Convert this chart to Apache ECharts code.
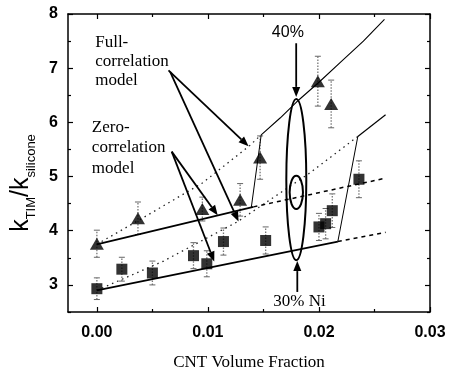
<!DOCTYPE html>
<html>
<head>
<meta charset="utf-8">
<script src="https://cdn.jsdelivr.net/npm/echarts@6/dist/echarts.min.js"></script>
<style>html,body{margin:0;padding:0;background:#fff}#c{width:452px;height:371px}</style>
</head>
<body>
<div id="c"></div>
<script>
// ---- data ----
const xTickLabels = [0, 0.01, 0.02, 0.03];
const xMinorTicks = [0.005, 0.015, 0.025];
const yTickLabels = [3, 4, 5, 6, 7, 8];
const yMinorTicks = [2.5, 3.5, 4.5, 5.5, 6.5, 7.5];

// 40% (triangles)
const triX = [0, 0.0037, 0.0095, 0.0129, 0.0147, 0.0199, 0.0211];
const triY = [3.76, 4.23, 4.40, 4.57, 5.35, 6.76, 6.34];
const triErr = [0.25, 0.30, 0.22, 0.30, 0.40, 0.46, 0.44];
// 30% Ni (squares)
const sqX = [0, 0.00225, 0.005, 0.0087, 0.0099, 0.0114, 0.0152, 0.0200, 0.0206, 0.0212, 0.0236];
const sqY = [2.93, 3.29, 3.22, 3.54, 3.39, 3.80, 3.82, 4.07, 4.13, 4.37, 4.95];
const sqErr = [0.20, 0.22, 0.22, 0.24, 0.24, 0.25, 0.25, 0.25, 0.28, 0.31, 0.34];

// model curves
const upSolidX = [0, 0.0141];        const upSolidY = [3.75, 4.44];
const upDashX = [0.0141, 0.026];     const upDashY = [4.44, 4.97];
const upJumpX = [0.0139, 0.0148];    const upJumpY = [4.42, 5.77];
const upCurveX = [0.0148, 0.0165, 0.018, 0.020, 0.022, 0.024, 0.0259];
const upCurveY = [5.77, 6.08, 6.38, 6.74, 7.12, 7.50, 7.90];
const upDotX = [0, 0.004, 0.0095, 0.0137, 0.0148];
const upDotY = [3.75, 4.22, 4.88, 5.56, 5.77];
const loSolidX = [0, 0.0217];        const loSolidY = [2.90, 3.80];
const loDashX = [0.0217, 0.026];     const loDashY = [3.80, 3.97];
const loJumpX = [0.0217, 0.0235];    const loJumpY = [3.80, 5.74];
const loCurveX = [0.0235, 0.026];    const loCurveY = [5.74, 6.14];
const loDotX = [0, 0.006, 0.0127, 0.0192, 0.0235];
const loDotY = [2.90, 3.44, 4.17, 5.07, 5.74];

const zip = (a, b) => a.map((v, i) => [v, b[i]]);
const zip3 = (a, b, e) => a.map((v, i) => [v, b[i] - e[i], b[i] + e[i]]);

const chart = echarts.init(document.getElementById('c'), null, {renderer: 'canvas'});

const XMIN = -0.0026, XMAX = 0.03, YMIN = 2.5, YMAX = 8;
const labelFont = {fontFamily: 'Liberation Sans', fontSize: 16, fontWeight: 'bold', color: '#000'};

function xAx(pos, major, showLabel, showLine, extra) {
  return Object.assign({
    type: 'value', position: pos, min: XMIN, max: XMAX,
    axisLine: {show: showLine, onZero: false, lineStyle: {color: '#000', width: 1.5}},
    axisTick: {show: true, inside: true, length: major ? 5 : 3, customValues: major ? xTickLabels : xMinorTicks, lineStyle: {color: '#000', width: 1.2}},
    axisLabel: showLabel ? Object.assign({show: true, customValues: xTickLabels, margin: 13, formatter: v => v.toFixed(2)}, labelFont) : {show: false},
    splitLine: {show: false}
  }, extra || {});
}
function yAx(pos, major, showLabel, showLine, extra) {
  return Object.assign({
    type: 'value', position: pos, min: YMIN, max: YMAX,
    axisLine: {show: showLine, onZero: false, lineStyle: {color: '#000', width: 1.5}},
    axisTick: {show: true, inside: true, length: major ? 5 : 3, customValues: major ? yTickLabels : yMinorTicks, lineStyle: {color: '#000', width: 1.2}},
    axisLabel: showLabel ? Object.assign({show: true, customValues: yTickLabels, margin: 10, formatter: v => String(v)}, labelFont) : {show: false},
    splitLine: {show: false}
  }, extra || {});
}

function errSeries(data) {
  return {
    type: 'custom', xAxisIndex: 0, yAxisIndex: 0, z: 2,
    data: data,
    renderItem: function (params, api) {
      const x = api.value(0);
      const lo = api.coord([x, api.value(1)]);
      const hi = api.coord([x, api.value(2)]);
      const st = {stroke: '#777', lineWidth: 1.3, lineDash: [1.5, 1.5]};
      const cs = {stroke: '#666', lineWidth: 1};
      return {type: 'group', children: [
        {type: 'line', shape: {x1: lo[0], y1: lo[1], x2: hi[0], y2: hi[1]}, style: st},
        {type: 'line', shape: {x1: lo[0] - 3, y1: lo[1], x2: lo[0] + 3, y2: lo[1]}, style: cs},
        {type: 'line', shape: {x1: hi[0] - 3, y1: hi[1], x2: hi[0] + 3, y2: hi[1]}, style: cs}
      ]};
    }
  };
}
function lineS(xs, ys, type, width, color) {
  return {
    type: 'line', xAxisIndex: 0, yAxisIndex: 0, data: zip(xs, ys), showSymbol: false, symbol: 'none',
    smooth: false, silent: true, z: 3,
    lineStyle: {color: color || '#000', width: width, type: type}
  };
}

const option = {
  animation: false,
  backgroundColor: '#fff',
  grid: {left: 68, right: 22, top: 14, bottom: 59, containLabel: false, outerBoundsMode: 'none'},
  xAxis: [
    xAx('bottom', true, true, true, {
      name: 'CNT Volume Fraction', nameLocation: 'middle', nameGap: 42,
      nameTextStyle: {fontFamily: 'Liberation Serif', fontSize: 17, color: '#000'}
    }),
    xAx('bottom', false, false, false),
    xAx('top', true, false, true),
    xAx('top', false, false, false)
  ],
  yAxis: [
    yAx('left', true, true, true, {
      name: '{k|k}{sub|TIM}{k|/k}{sub|silicone}', nameLocation: 'middle', nameGap: 24, nameRotate: 90,
      nameTextStyle: {
        fontFamily: 'Liberation Sans', color: '#000', padding: [0, 40, 0, 0],
        rich: {
          k: {fontFamily: 'Liberation Sans', fontSize: 25, color: '#000', verticalAlign: 'bottom', lineHeight: 25, padding: [0, 0, 5, 0]},
          sub: {fontFamily: 'Liberation Sans', fontSize: 13, color: '#000', verticalAlign: 'bottom', lineHeight: 13}
        }
      }
    }),
    yAx('left', false, false, false),
    yAx('right', true, false, true),
    yAx('right', false, false, false)
  ],
  series: [
    lineS(upDotX, upDotY, [1.5, 4], 1.3, '#222'),
    lineS(loDotX, loDotY, [1.5, 4], 1.3, '#222'),
    lineS(upSolidX, upSolidY, 'solid', 1.8),
    lineS(upDashX, upDashY, [4, 4], 1.5),
    lineS(upJumpX, upJumpY, 'solid', 1),
    lineS(upCurveX, upCurveY, 'solid', 1.1),
    lineS(loSolidX, loSolidY, 'solid', 1.8),
    lineS(loDashX, loDashY, [4, 4], 1.5),
    lineS(loJumpX, loJumpY, 'solid', 1),
    lineS(loCurveX, loCurveY, 'solid', 1.2),
    errSeries(zip3(triX, triY, triErr)),
    errSeries(zip3(sqX, sqY, sqErr)),
    {type: 'scatter', xAxisIndex: 0, yAxisIndex: 0, data: zip(triX, triY), symbol: 'triangle', symbolSize: [14, 12], itemStyle: {color: '#000'}, z: 5},
    {type: 'scatter', xAxisIndex: 0, yAxisIndex: 0, data: zip(sqX, sqY), symbol: 'rect', symbolSize: 11, itemStyle: {color: '#000'}, z: 5}
  ]
};
chart.setOption(option);

// ---- annotations, in data coordinates ----
const annTexts = [
  {text: 'Full-\ncorrelation\nmodel', at: [-0.00015, 7.64], font: 'Liberation Serif', size: 17, align: 'left', vAlign: 'top', lh: 19},
  {text: 'Zero-\ncorrelation\nmodel', at: [-0.00045, 6.10], font: 'Liberation Serif', size: 17, align: 'left', vAlign: 'top', lh: 20.5},
  {text: '40%', at: [0.0172, 7.66], font: 'Liberation Sans', size: 16, align: 'center', vAlign: 'middle', lh: 18},
  {text: '30% Ni', at: [0.01825, 2.69], font: 'Liberation Serif', size: 17, align: 'center', vAlign: 'middle', lh: 18}
];
const annArrows = [
  {from: [0.00645, 6.96], to: [0.01366, 5.56]},
  {from: [0.0066, 6.93], to: [0.01276, 4.17]},
  {from: [0.00674, 5.46], to: [0.01088, 4.285]},
  {from: [0.00674, 5.46], to: [0.01057, 3.43]},
  {from: [0.01795, 7.46], to: [0.01795, 6.47]},
  {from: [0.01805, 2.87], to: [0.01805, 3.44]}
];
const annEllipses = [
  {c: [0.01796, 4.943], rxData: 0.0009, top: 6.43},
  {c: [0.01796, 4.709], rxData: 0.0006, top: 5.015}
];

const P = p => chart.convertToPixel({xAxisIndex: 0, yAxisIndex: 0}, p);
const g = [];
annTexts.forEach(t => {
  const p = P(t.at);
  g.push({type: 'text', x: p[0], y: p[1], z: 10, style: {
    text: t.text, fill: '#000', fontFamily: t.font, fontSize: t.size,
    align: t.align, verticalAlign: t.vAlign, lineHeight: t.lh
  }});
});
annArrows.forEach(a => {
  const p1 = P(a.from), p2 = P(a.to);
  const dx = p2[0] - p1[0], dy = p2[1] - p1[1];
  const len = Math.hypot(dx, dy), ux = dx / len, uy = dy / len;
  const hl = 10, hw = 4;
  const bx = p2[0] - ux * hl, by = p2[1] - uy * hl;
  g.push({type: 'line', z: 10, shape: {x1: p1[0], y1: p1[1], x2: bx, y2: by}, style: {stroke: '#000', lineWidth: 1.8}});
  g.push({type: 'polygon', z: 10, shape: {points: [[p2[0], p2[1]], [bx - uy * hw, by + ux * hw], [bx + uy * hw, by - ux * hw]]}, style: {fill: '#000'}});
});
annEllipses.forEach(e => {
  const c = P(e.c), t = P([e.c[0], e.top]), r = P([e.c[0] + e.rxData, e.c[1]]);
  g.push({type: 'ellipse', z: 10, shape: {cx: c[0], cy: c[1], rx: r[0] - c[0], ry: c[1] - t[1]}, style: {fill: 'none', stroke: '#000', lineWidth: 2}});
});
chart.setOption({graphic: g});
</script>
</body>
</html>
